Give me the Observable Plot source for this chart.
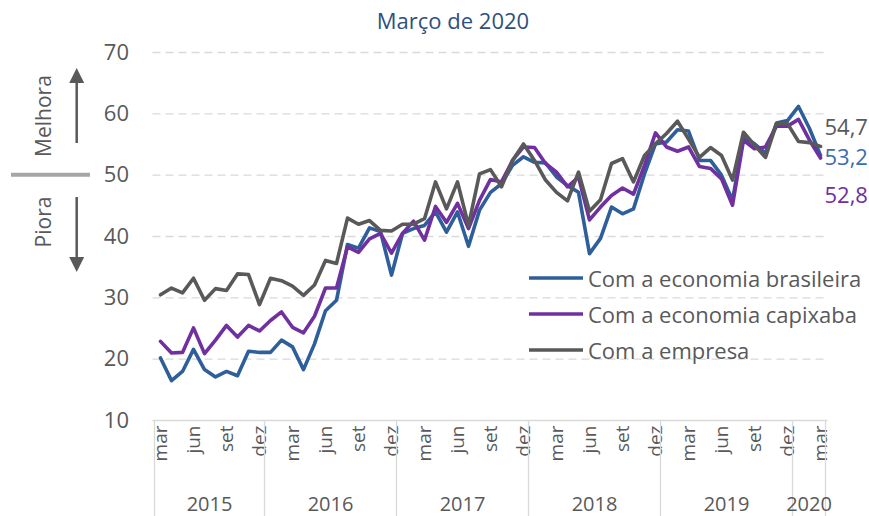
<!DOCTYPE html>
<html><head><meta charset="utf-8">
<script src="https://cdn.jsdelivr.net/npm/d3@7"></script>
<script src="https://cdn.jsdelivr.net/npm/@observablehq/plot@0.6"></script>
<style>
body{margin:0;background:#fff;font-family:"Open Sans",sans-serif;}
#wrap{position:relative;width:869px;height:516px;overflow:hidden;}
#sub{position:absolute;left:453px;top:5px;transform:translateX(-50%);font-size:22px;color:#2F4F7F;white-space:nowrap;line-height:30px;}
</style></head><body>
<div id="wrap"><div id="chart"></div><div id="sub">Março de 2020</div></div>
<script>
const monthNames = ["jan","fev","mar","abr","mai","jun","jul","ago","set","out","nov","dez"];
const labeledMonths = ["mar","jun","set","dez"];
const years = [2015, 2016, 2017, 2018, 2019, 2020];
const startMonth = 2; // mar 2015
const yTicks = [10, 20, 30, 40, 50, 60, 70];
const seriesNames = ["Com a economia brasileira", "Com a economia capixaba", "Com a empresa"];
const seriesColors = ["#2E5F9A", "#7030A0", "#595959"];

const brasileira = [20.2,16.5,18.0,21.6,18.3,17.1,18.0,17.3,21.3,21.1,21.1,23.1,22.0,18.3,22.5,27.9,29.6,38.7,38.1,41.4,40.8,
  33.7,40.5,41.3,41.8,44.0,40.7,44.0,38.4,44.3,47.2,48.6,51.6,53.0,52.1,52.0,49.7,48.3,47.2,37.2,39.7,
  44.8,43.7,44.5,50.2,55.1,55.4,57.4,57.2,52.4,52.4,50.0,45.9,56.2,55.1,53.6,58.5,58.9,61.2,57.6,53.2];
const capixaba = [22.9,21.0,21.1,25.1,20.9,23.1,25.5,23.6,25.5,24.6,26.3,27.7,25.2,24.3,27.0,31.6,31.6,38.3,37.4,39.6,40.5,
  37.3,40.5,42.5,39.4,44.9,42.3,45.4,41.3,45.9,49.3,48.9,52.4,54.6,54.5,51.9,50.5,48.1,49.7,42.7,44.8,
  46.7,47.9,46.9,51.6,56.9,54.6,53.9,54.6,51.4,51.1,49.4,45.1,55.7,54.3,54.6,58.0,58.0,59.1,55.7,52.8];
const empresa = [30.5,31.6,30.8,33.2,29.6,31.5,31.2,33.9,33.8,28.9,33.2,32.8,31.9,30.4,32.1,36.1,35.6,43.0,42.0,42.6,41.0,
  40.9,42.0,42.0,42.9,48.9,44.5,48.9,41.8,50.2,50.9,48.1,52.4,55.1,52.4,49.2,47.2,45.8,50.5,44.1,46.0,
  51.9,52.7,48.9,53.2,55.1,56.8,58.8,55.9,52.9,54.5,53.2,49.2,57.0,54.9,52.9,58.4,58.4,55.5,55.3,54.7];

const seriesValues = [brasileira, capixaba, empresa];
const months = brasileira.map((_, i) => {
  const m = startMonth + i;
  return {key: `${monthNames[m % 12]}-${years[0] + Math.floor(m / 12)}`, month: monthNames[m % 12], year: years[0] + Math.floor(m / 12)};
});
const keys = months.map(d => d.key);
const rows = [];
seriesValues.forEach((vals, s) => vals.forEach((v, i) => rows.push({key: keys[i], value: v, series: seriesNames[s]})));
const fmt = v => v.toFixed(1).replace(".", ",");
const last = keys[keys.length - 1];
const endDy = [2, 38, -18];

const font = "'Open Sans', sans-serif";
const plot = Plot.plot({
  width: 869, height: 516,
  marginTop: 52, marginBottom: 96, marginLeft: 152.5, marginRight: 41.5,
  style: {fontFamily: font, color: "#595959", background: "transparent", overflow: "visible"},
  x: {type: "point", domain: keys, padding: 0.5, axis: null},
  y: {domain: [10, 70], axis: null},
  color: {domain: seriesNames, range: seriesColors},
  marks: [
    Plot.gridY(yTicks.slice(1), {stroke: "#D9D9D9", strokeOpacity: 1, strokeWidth: 1.3, strokeDasharray: "8,5"}),
    Plot.ruleY([10], {stroke: "#D9D9D9", strokeWidth: 1.3}),
    Plot.axisY({ticks: yTicks, tickSize: 0, tickPadding: 24, fontSize: 22, fill: "#595959", label: null}),
    Plot.text(months.filter(d => labeledMonths.includes(d.month)), {
      x: "key", y: () => 10, text: "month", rotate: -90, textAnchor: "end", lineAnchor: "middle",
      dy: 5, fontSize: 19, fill: "#595959"
    }),
    Plot.line(rows, {x: "key", y: "value", z: "series", stroke: "series", strokeWidth: 3.6, strokeLinejoin: "round", strokeLinecap: "round"}),
    ...seriesValues.map((vals, s) => Plot.text([vals[vals.length - 1]], {
      x: () => last, y: d => d, text: d => fmt(d), textAnchor: "start", dx: 4, dy: endDy[s],
      fontSize: 22, fill: s === 0 ? "#3B6DB0" : seriesColors[s]
    }))
  ]
});
document.getElementById("chart").appendChild(plot);

// decorations: hierarchical year axis, left annotations, legend
const svg = d3.select(plot);
const xs = plot.scale("x"), ys = plot.scale("y");
const step = xs.apply(keys[1]) - xs.apply(keys[0]);
const yBase = ys.apply(10);
const g = svg.append("g").attr("font-family", font).attr("text-anchor", "start");
const bounds = [xs.apply(keys[0]) - step / 2];
years.forEach(yr => {
  const idx = months.map((d, i) => d.year === yr ? i : -1).filter(i => i >= 0);
  bounds.push(xs.apply(keys[idx[idx.length - 1]]) + step / 2);
});
bounds.forEach(b => g.append("line").attr("x1", b).attr("x2", b).attr("y1", yBase).attr("y2", 516)
  .attr("stroke", "#D9D9D9").attr("stroke-width", 1.3));
years.forEach((yr, i) => g.append("text").attr("x", (bounds[i] + bounds[i + 1]) / 2).attr("y", 503)
  .attr("text-anchor", "middle").attr("dominant-baseline", "central").attr("font-size", 20).attr("fill", "#595959").text(yr));

// left annotations
const y50 = ys.apply(50);
g.append("line").attr("x1", 11).attr("x2", 90).attr("y1", y50).attr("y2", y50).attr("stroke", "#A6A6A6").attr("stroke-width", 4);
const ax = 76.7;
g.append("line").attr("x1", ax).attr("x2", ax).attr("y1", 143).attr("y2", 80).attr("stroke", "#595959").attr("stroke-width", 2.5);
g.append("path").attr("d", `M${ax - 7.5},83L${ax + 7.5},83L${ax},68Z`).attr("fill", "#595959");
g.append("line").attr("x1", ax).attr("x2", ax).attr("y1", 197).attr("y2", 260).attr("stroke", "#595959").attr("stroke-width", 2.5);
g.append("path").attr("d", `M${ax - 7.5},257L${ax + 7.5},257L${ax},272Z`).attr("fill", "#595959");
[["Melhora", 116], ["Piora", 222]].forEach(([t, cy]) => g.append("text")
  .attr("transform", `translate(43,${cy}) rotate(-90)`).attr("text-anchor", "middle").attr("dominant-baseline", "central")
  .attr("font-size", 21).attr("fill", "#595959").text(t));

// legend
const legendY = [278, 314, 350];
seriesNames.forEach((n, i) => {
  g.append("line").attr("x1", 529).attr("x2", 583).attr("y1", legendY[i]).attr("y2", legendY[i])
    .attr("stroke", seriesColors[i]).attr("stroke-width", 3.6);
  g.append("text").attr("x", 588).attr("y", legendY[i]).attr("text-anchor", "start").attr("dominant-baseline", "central")
    .attr("font-size", 22).attr("fill", "#595959").text(n);
});
</script>
</body></html>
